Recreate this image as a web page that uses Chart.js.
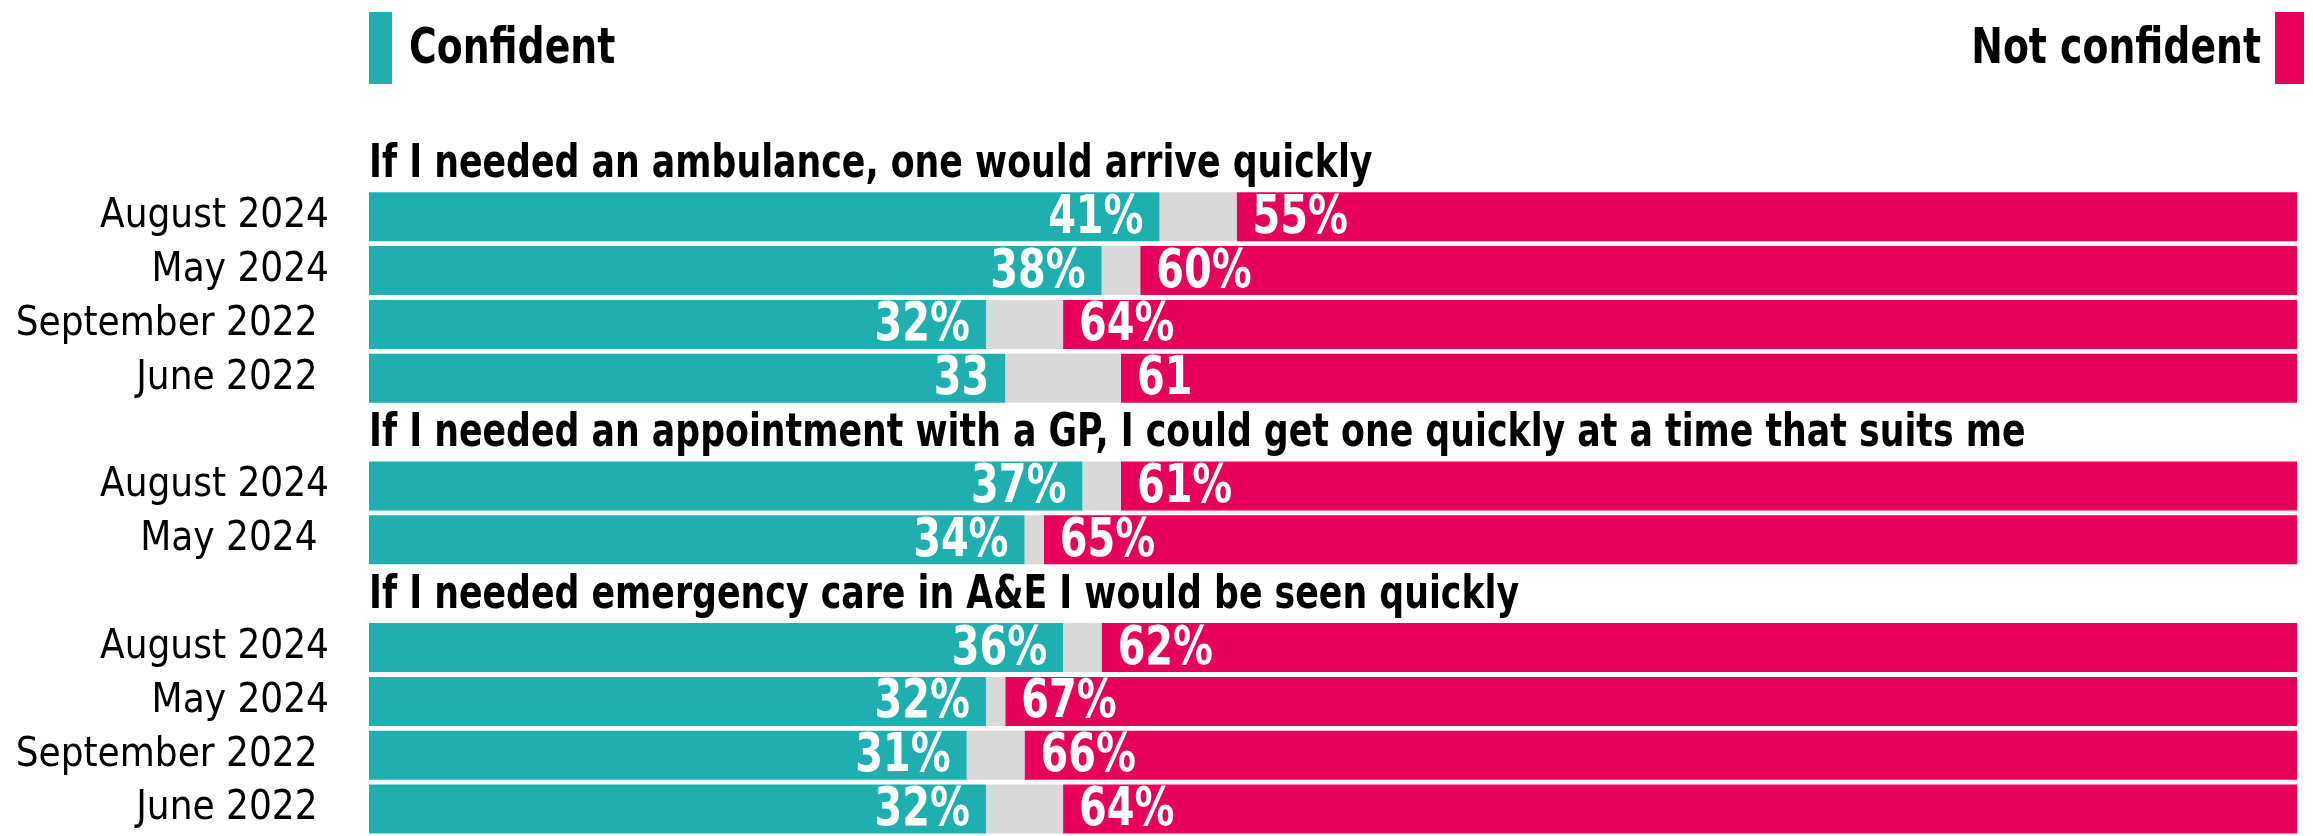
<!DOCTYPE html>
<html>
<head>
<meta charset="utf-8">
<script src="https://cdn.jsdelivr.net/npm/chart.js@4.4.1/dist/chart.umd.min.js"></script>
<style>
  html, body { margin: 0; padding: 0; background: #fff; overflow: hidden; }
</style>
</head>
<body>
<canvas id="chart" width="2313" height="836"></canvas>
<script>
// rows, with empty slots where a question heading sits
const rowLabels = ['', 'August 2024', 'May 2024', 'September 2022 ', 'June 2022 ',
                   '', 'August 2024', 'May 2024 ',
                   '', 'August 2024', 'May 2024', 'September 2022 ', 'June 2022 '];
const questions = [
    'If I needed an ambulance, one would arrive quickly',
    'If I needed an appointment with a GP, I could get one quickly at a time that suits me',
    'If I needed emergency care in A&E I would be seen quickly'
];
const questionRows = [0, 5, 8];

const confident    = [null, 41, 38, 32, 33, null, 37, 34, null, 36, 32, 31, 32];
const dontKnow     = [null, 4, 2, 4, 6, null, 2, 1, null, 2, 1, 3, 4];
const notConfident = [null, 55, 60, 64, 61, null, 61, 65, null, 62, 67, 66, 64];

const confidentText    = ['', '41%', '38%', '32%', '33', '', '37%', '34%', '', '36%', '32%', '31%', '32%'];
const notConfidentText = ['', '55%', '60%', '64%', '61', '', '61%', '65%', '', '62%', '67%', '66%', '64%'];

const TEAL = '#1FAFAE';
const PINK = '#E5005A';
const GREY = '#D9D9D9';
const FONT = '"DejaVu Sans Condensed", "DejaVu Sans", sans-serif';

// the original uses a condensed face, so squeeze the text sideways
function squeezedText(ctx, text, x, y, align, sx) {
    ctx.save();
    ctx.textAlign = align;
    ctx.scale(sx, 1);
    ctx.fillText(text, x / sx, y);
    ctx.restore();
}

// legend at the top, teal on the left and pink on the right
const legendPlugin = {
    id: 'topLegend',
    afterDraw(chart) {
        const { ctx, chartArea } = chart;
        ctx.save();
        ctx.fillStyle = TEAL;
        ctx.fillRect(chartArea.left, 12, 23, 72);
        ctx.fillStyle = PINK;
        ctx.fillRect(chartArea.right - 22, 12, 29, 72);
        ctx.fillStyle = '#000';
        ctx.font = 'bold 50px ' + FONT;
        ctx.textBaseline = 'middle';
        squeezedText(ctx, 'Confident', chartArea.left + 40, 50, 'left', 0.84);
        squeezedText(ctx, 'Not confident', chartArea.right - 36, 50, 'right', 0.84);
        ctx.restore();
    }
};

// question headings drawn in their empty rows
const headingPlugin = {
    id: 'headings',
    afterDraw(chart) {
        const { ctx, chartArea, scales } = chart;
        ctx.save();
        ctx.fillStyle = '#000';
        ctx.font = 'bold 46px ' + FONT;
        ctx.textBaseline = 'middle';
        questionRows.forEach((row, i) => {
            squeezedText(ctx, questions[i], chartArea.left, scales.y.getPixelForValue(row) + 2, 'left', 0.84);
        });
        ctx.restore();
    }
};

// white percentages inside the bars
const valuePlugin = {
    id: 'values',
    afterDatasetsDraw(chart) {
        const { ctx } = chart;
        const teal = chart.getDatasetMeta(0).data;
        const pink = chart.getDatasetMeta(2).data;
        ctx.save();
        ctx.fillStyle = '#fff';
        ctx.font = 'bold 54px ' + FONT;
        ctx.textBaseline = 'middle';
        teal.forEach((bar, i) => {
            if (confident[i] == null) return;
            squeezedText(ctx, confidentText[i], bar.x - 16, bar.y + 2, 'right', 0.82);
        });
        pink.forEach((bar, i) => {
            if (notConfident[i] == null) return;
            squeezedText(ctx, notConfidentText[i], bar.base + 16, bar.y + 2, 'left', 0.82);
        });
        ctx.restore();
    }
};

new Chart(document.getElementById('chart'), {
    type: 'bar',
    data: {
        labels: rowLabels,
        datasets: [
            { label: 'Confident', data: confident, backgroundColor: TEAL },
            { label: "Don't know", data: dontKnow, backgroundColor: GREY },
            { label: 'Not confident', data: notConfident, backgroundColor: PINK }
        ]
    },
    options: {
        indexAxis: 'y',
        responsive: false,
        animation: false,
        layout: { padding: { top: 136, right: 16, bottom: 0, left: 0 } },
        datasets: { bar: { categoryPercentage: 1, barPercentage: 0.91 } },
        scales: {
            x: { stacked: true, min: 0, max: 100, display: false },
            y: {
                stacked: true,
                grid: { display: false },
                border: { display: false },
                afterFit(scale) {
                    scale.width = 369;
                    // tick padding should not eat into the rows
                    scale.paddingTop = 0;
                    scale.paddingBottom = 0;
                },
                ticks: {
                    autoSkip: false,
                    padding: 32,
                    color: '#000',
                    font: { family: FONT, size: 40 }
                }
            }
        },
        plugins: {
            legend: { display: false },
            tooltip: { enabled: false }
        }
    },
    plugins: [legendPlugin, headingPlugin, valuePlugin]
});
</script>
</body>
</html>
